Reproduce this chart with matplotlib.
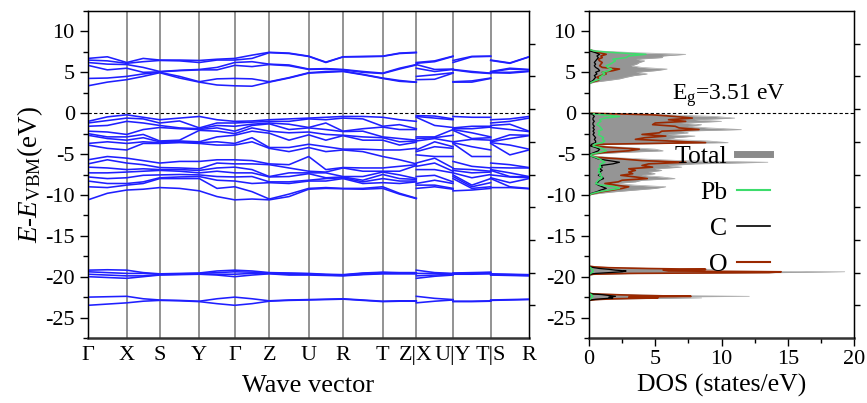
import numpy as np
import matplotlib
matplotlib.use("Agg")
import matplotlib.pyplot as plt
from matplotlib.lines import Line2D
from matplotlib.ticker import MultipleLocator

plt.rcParams['font.family'] = ['Liberation Serif', 'DejaVu Serif']
plt.rcParams['mathtext.fontset'] = 'custom'
plt.rcParams['mathtext.rm'] = 'Liberation Serif'
plt.rcParams['mathtext.it'] = 'Liberation Serif:italic'
plt.rcParams['axes.unicode_minus'] = False

# ---------------- band structure data ----------------
kpoint_labels = ['Γ', 'X', 'S', 'Y', 'Γ', 'Z', 'U', 'R', 'T', 'Z|X', 'U|Y', 'T|S', 'R']
seg_len = [38.7, 33.0, 39.6, 35.4, 34.6, 39.4, 34.3, 39.7, 33.6, 36.7, 37.7, 38.3]

# main path Γ-X-S-Y-Γ-Z-U-R-T-Z : node, mid, node, ... (19 rows)
cb_main = [
    [3.35, 4.25, 5.85, 6.2, 6.5, 6.7],
    [3.8, 4.3, 5.3, 6.0, 6.4, 6.9],
    [4.1, 4.5, 5.5, 5.95, 6.1, 6.2],
    [4.5, 4.8, 5.0, 5.6, 6.3, 6.7],
    [4.95, 5.0, 5.05, 5.1, 6.45, 6.5],
    [4.3, 4.5, 5.2, 5.25, 6.4, 6.5],
    [3.8, 3.85, 5.3, 5.35, 6.2, 6.45],
    [3.45, 4.2, 5.3, 5.6, 6.5, 6.6],
    [3.35, 4.25, 5.85, 6.2, 6.5, 6.7],
    [3.3, 4.2, 5.7, 6.3, 6.7, 7.1],
    [3.8, 3.85, 5.95, 6.0, 7.4, 7.45],
    [4.3, 4.35, 5.8, 5.9, 7.3, 7.35],
    [4.9, 4.95, 5.35, 5.4, 6.94, 6.98],
    [5.0, 5.1, 5.4, 5.45, 6.2, 6.25],
    [5.1, 5.15, 5.3, 5.35, 6.88, 6.9],
    [4.7, 4.75, 5.0, 5.1, 6.9, 6.95],
    [4.25, 4.3, 4.85, 4.9, 6.95, 6.98],
    [3.9, 4.0, 5.4, 5.5, 7.3, 7.35],
    [3.78, 3.8, 5.9, 5.95, 7.4, 7.45],
]
cb_XU = [[4.1, 4.5, 5.5, 5.95, 6.1, 6.2],
         [4.15, 4.7, 5.1, 5.35, 6.3, 6.4],
         [4.9, 4.95, 5.35, 5.4, 6.94, 6.98]]
cb_YT = [[3.8, 3.85, 5.3, 5.35, 6.2, 6.45],
         [3.8, 3.95, 5.0, 5.1, 6.9, 6.95],
         [4.25, 4.3, 4.85, 4.9, 6.95, 6.98]]
cb_SR = [[4.95, 5.0, 5.05, 5.1, 6.45, 6.5],
         [4.9, 5.0, 5.4, 5.5, 6.1, 6.15],
         [5.1, 5.15, 5.3, 5.35, 6.88, 6.9]]

vb_main = [
    [-1.0, -1.2, -1.6, -2.2, -2.5, -2.7, -3.7, -3.9, -5.7, -6.2, -6.6, -7.3, -7.8, -8.3, -9.0, -10.6],
    [-0.45, -0.9, -1.5, -2.3, -2.9, -3.1, -3.5, -4.3, -5.3, -5.7, -6.7, -7.3, -8.0, -8.6, -9.1, -9.8],
    [-0.2, -0.6, -1.0, -2.6, -2.9, -3.3, -3.7, -4.5, -5.5, -6.1, -6.9, -7.2, -7.9, -8.6, -8.8, -9.4],
    [-0.5, -0.7, -1.2, -2.0, -2.6, -3.0, -3.5, -3.7, -5.8, -6.3, -6.8, -7.1, -7.6, -8.4, -8.6, -9.3],
    [-0.8, -1.2, -1.5, -1.75, -3.4, -3.5, -3.6, -3.7, -6.1, -6.65, -6.9, -7.0, -7.55, -7.9, -8.0, -9.1],
    [-0.6, -0.95, -1.8, -1.9, -3.3, -3.4, -3.5, -3.6, -5.9, -6.7, -6.9, -7.1, -7.5, -7.8, -8.0, -9.2],
    [-0.4, -1.8, -1.9, -2.0, -2.1, -3.5, -3.6, -3.7, -5.9, -6.8, -7.0, -7.3, -7.55, -7.75, -8.0, -9.5],
    [-0.8, -1.2, -1.5, -1.8, -2.2, -2.9, -3.5, -3.9, -5.7, -6.1, -6.7, -7.1, -7.75, -8.2, -9.2, -10.2],
    [-1.0, -1.2, -1.6, -2.2, -2.5, -2.7, -3.7, -3.9, -5.7, -6.2, -6.6, -7.3, -7.8, -8.3, -9.0, -10.6],
    [-0.95, -1.1, -1.35, -1.5, -1.8, -2.2, -3.0, -3.5, -5.8, -6.2, -6.9, -7.3, -7.75, -8.6, -9.6, -10.5],
    [-0.8, -1.0, -1.2, -1.3, -2.2, -2.45, -4.2, -4.3, -6.2, -6.3, -7.75, -7.8, -8.4, -8.5, -10.5, -10.6],
    [-0.7, -1.0, -1.35, -2.0, -2.4, -3.3, -4.2, -4.7, -6.3, -6.7, -7.3, -7.75, -8.4, -8.6, -9.9, -10.2],
    [-0.6, -0.7, -1.75, -1.8, -2.3, -2.65, -3.8, -4.2, -5.3, -7.1, -7.3, -7.4, -8.2, -8.3, -9.2, -9.3],
    [-0.5, -0.8, -1.2, -2.0, -2.6, -3.3, -4.1, -4.7, -6.9, -7.2, -7.3, -7.9, -8.0, -8.3, -9.1, -9.2],
    [-0.4, -0.6, -2.2, -2.25, -2.7, -2.75, -4.4, -4.5, -6.65, -6.7, -7.75, -7.8, -7.9, -8.0, -9.2, -9.25],
    [-0.4, -0.7, -1.9, -2.2, -2.9, -3.3, -4.4, -4.7, -6.7, -7.1, -7.75, -8.2, -8.4, -8.6, -9.2, -9.3],
    [-0.5, -1.6, -1.7, -2.9, -3.0, -3.3, -4.5, -5.3, -6.7, -7.1, -7.2, -7.5, -8.0, -8.5, -9.0, -9.2],
    [-0.8, -1.4, -2.0, -3.1, -3.5, -3.9, -4.5, -5.7, -6.5, -7.1, -7.55, -8.0, -8.3, -8.6, -9.8, -9.9],
    [-1.0, -1.9, -2.0, -3.3, -3.4, -3.55, -4.3, -6.2, -6.3, -6.4, -8.0, -8.1, -8.3, -8.4, -10.4, -10.45],
]
vb_XU = [
    [-0.3, -0.4, -0.5, -2.9, -3.1, -3.4, -4.5, -4.7, -5.1, -6.1, -6.5, -6.9, -7.75, -8.6, -8.8, -9.2],
    [-0.35, -0.6, -1.5, -2.9, -3.0, -3.1, -3.5, -4.1, -5.3, -5.5, -6.1, -6.9, -7.6, -8.2, -8.8, -9.0],
    [-0.7, -0.8, -1.75, -2.0, -2.7, -3.5, -4.1, -4.3, -5.3, -6.7, -7.1, -7.3, -8.4, -8.6, -9.2, -9.3],
]
vb_YT = [
    [-0.4, -1.8, -1.9, -2.0, -2.1, -3.5, -3.6, -3.7, -5.9, -6.8, -7.0, -7.3, -7.55, -7.75, -8.0, -9.5],
    [-0.5, -1.6, -1.9, -2.4, -3.1, -3.2, -4.1, -5.3, -6.5, -6.9, -7.3, -7.9, -8.8, -9.0, -9.2, -9.4],
    [-0.5, -1.6, -1.7, -2.9, -3.0, -3.3, -4.5, -5.3, -6.7, -7.1, -7.2, -7.5, -8.0, -8.5, -9.0, -9.2],
]
vb_SR = [
    [-0.8, -1.2, -1.5, -1.75, -3.4, -3.5, -3.6, -3.7, -6.1, -6.65, -6.9, -7.0, -7.55, -7.9, -8.0, -9.1],
    [-0.7, -1.0, -1.35, -2.0, -2.65, -3.1, -3.9, -5.1, -6.3, -6.7, -7.3, -7.75, -7.8, -8.5, -9.0, -9.1],
    [-0.4, -0.6, -2.2, -2.25, -2.7, -2.75, -4.4, -4.5, -6.65, -6.7, -7.75, -7.8, -7.9, -8.0, -9.2, -9.25],
]

sc_main = [
    [-19.2, -19.4, -19.7, -20.0, -22.5, -23.5],
    [-19.15, -19.5, -19.8, -20.1, -22.45, -23.35],
    [-19.2, -19.6, -19.9, -20.2, -22.4, -23.2],
    [-19.5, -19.6, -19.9, -20.0, -22.7, -23.0],
    [-19.65, -19.7, -19.75, -19.8, -22.85, -22.9],
    [-19.6, -19.65, -19.7, -19.75, -22.9, -22.95],
    [-19.55, -19.6, -19.65, -19.7, -23.0, -23.05],
    [-19.3, -19.5, -19.7, -19.8, -22.7, -23.3],
    [-19.2, -19.4, -19.7, -20.0, -22.5, -23.5],
    [-19.3, -19.45, -19.6, -19.8, -22.7, -23.3],
    [-19.5, -19.55, -19.6, -19.65, -22.95, -23.0],
    [-19.55, -19.6, -19.7, -19.8, -22.85, -22.9],
    [-19.6, -19.65, -19.7, -19.8, -22.8, -22.85],
    [-19.7, -19.75, -19.8, -19.85, -22.75, -22.8],
    [-19.75, -19.8, -19.85, -19.9, -22.7, -22.75],
    [-19.55, -19.6, -19.7, -19.75, -22.85, -22.9],
    [-19.45, -19.5, -19.6, -19.65, -23.0, -23.05],
    [-19.5, -19.55, -19.6, -19.65, -22.95, -23.0],
    [-19.5, -19.55, -19.6, -19.65, -22.95, -23.0],
]
sc_XU = [[-19.2, -19.6, -19.9, -20.2, -22.4, -23.2],
         [-19.5, -19.6, -19.8, -19.95, -22.65, -23.0],
         [-19.6, -19.65, -19.7, -19.8, -22.8, -22.85]]
sc_YT = [[-19.55, -19.6, -19.65, -19.7, -23.0, -23.05],
         [-19.5, -19.55, -19.6, -19.7, -23.0, -23.05],
         [-19.45, -19.5, -19.6, -19.65, -22.95, -23.0]]
sc_SR = [[-19.65, -19.7, -19.75, -19.8, -22.85, -22.9],
         [-19.7, -19.75, -19.8, -19.85, -22.8, -22.85],
         [-19.75, -19.8, -19.85, -19.9, -22.75, -22.8]]

# ---------------- DOS data (energy, Total, Pb, C, O) ----------------
dos_E = [12.5, 7.8, 7.6, 7.4, 7.2, 7.0, 6.8, 6.6, 6.4, 6.2, 6.0, 5.8, 5.6, 5.4, 5.2, 5.0,
         4.8, 4.6, 4.4, 4.2, 4.0, 3.8, 3.6,
         0.0, -0.2, -0.4, -0.6, -0.8, -1.0, -1.2, -1.4, -1.6, -1.8, -2.0, -2.2, -2.4, -2.6,
         -2.8, -3.0, -3.2, -3.4, -3.6, -3.8, -4.0, -4.2, -4.4, -4.6, -4.8, -5.0, -5.2, -5.4,
         -5.6, -5.8, -6.0, -6.2, -6.4, -6.6, -6.8, -7.0, -7.2, -7.4, -7.6, -7.8, -8.0, -8.2,
         -8.4, -8.6, -8.8, -9.0, -9.2, -9.4, -9.6, -9.8, -10.0,
         -18.7, -18.8, -18.9, -19.0, -19.1, -19.2, -19.3, -19.4, -19.5, -19.6, -19.7, -19.8,
         -22.0, -22.1, -22.2, -22.3, -22.4, -22.5, -22.6, -22.7, -22.8, -22.9, -27.5]
dos_total = [0, 0, 0.8, 3.5, 7.3, 5.6, 5.5, 3.6, 4.2, 3.8, 3.6, 3.2, 4.0, 5.9, 5.0, 3.6,
             4.4, 3.4, 2.8, 2.3, 1.4, 0.4, 0,
             0, 6.0, 9.5, 11.0, 8.0, 10.0, 7.0, 8.5, 7.5, 9.0, 11.5, 7.0, 7.5, 6.0,
             8.0, 6.5, 6.0, 9.0, 10.5, 1.5, 0.5, 3.0, 5.0, 5.6, 2.5, 0.4, 0.2, 1.5,
             4.0, 7.0, 13.5, 8.0, 6.0, 7.0, 5.0, 5.5, 4.5, 5.0, 4.0, 5.5, 6.5, 4.0,
             3.5, 2.0, 3.5, 5.8, 5.0, 3.5, 2.0, 0.8, 0,
             0, 0.5, 2.0, 5.0, 9.5, 6.0, 8.0, 19.3, 14.5, 4.0, 0.5, 0,
             0, 0.5, 3.0, 6.0, 12.1, 4.0, 8.5, 3.0, 0.8, 0, 0]
dos_Pb = [0, 0, 0.4, 2.0, 4.3, 3.0, 2.8, 1.8, 2.0, 1.8, 1.6, 1.3, 1.4, 1.7, 1.5, 1.0,
          1.2, 1.0, 0.8, 0.9, 0.5, 0.2, 0,
          0, 1.0, 2.3, 1.2, 0.8, 0.9, 0.7, 0.6, 0.8, 0.9, 1.0, 0.7, 0.8, 0.7,
          0.9, 1.1, 1.0, 1.2, 1.0, 0.4, 0.3, 0.8, 1.1, 1.3, 0.8, 0.2, 0.1, 0.5,
          0.8, 1.0, 1.2, 0.9, 0.8, 0.9, 0.7, 0.8, 0.7, 0.9, 0.8, 1.0, 0.9, 0.7,
          0.6, 0.5, 0.9, 2.0, 2.3, 1.5, 0.8, 0.3, 0,
          0, 0.05, 0.1, 0.2, 0.2, 0.3, 0.3, 0.3, 0.2, 0.1, 0.05, 0,
          0, 0.05, 0.2, 0.2, 0.3, 0.2, 0.2, 0.1, 0.05, 0, 0]
dos_C = [0, 0, 0.1, 0.5, 0.8, 0.6, 0.7, 0.6, 0.5, 0.4, 0.5, 0.4, 0.5, 0.7, 0.8, 0.5,
         0.6, 0.4, 0.5, 0.4, 0.3, 0.1, 0,
         0, 0.3, 0.4, 0.3, 0.3, 0.4, 0.3, 0.3, 0.4, 0.3, 0.4, 0.3, 0.4, 0.3,
         0.4, 0.5, 0.4, 0.5, 0.5, 0.2, 0.1, 0.5, 0.8, 0.7, 0.4, 0.1, 0.05, 0.4,
         0.7, 1.5, 2.3, 1.8, 0.9, 1.0, 0.8, 1.0, 0.8, 0.9, 0.7, 1.0, 1.1, 0.8,
         0.7, 0.5, 0.7, 1.0, 1.3, 0.9, 0.6, 0.2, 0,
         0, 0.1, 0.4, 0.8, 1.5, 2.0, 2.8, 2.5, 1.5, 0.5, 0.1, 0,
         0, 0.2, 1.0, 1.5, 2.0, 1.5, 1.8, 1.0, 0.3, 0, 0]
dos_O = [0, 0, 0.3, 0.8, 1.3, 0.9, 1.0, 0.7, 0.8, 1.0, 0.9, 0.8, 1.0, 2.3, 1.8, 1.0,
         1.3, 0.9, 0.6, 0.8, 0.7, 0.2, 0,
         0, 4.8, 6.5, 7.8, 6.0, 7.3, 5.0, 4.8, 6.5, 6.8, 8.3, 5.5, 5.3, 4.0,
         5.8, 4.2, 3.5, 6.0, 8.8, 0.8, 0.2, 1.8, 3.8, 3.0, 1.2, 0.2, 0.1, 0.6,
         2.5, 4.0, 7.3, 4.5, 4.0, 4.8, 3.0, 3.5, 3.0, 3.3, 2.4, 3.5, 4.4, 2.5,
         2.2, 1.2, 2.0, 3.0, 2.5, 1.8, 1.0, 0.4, 0,
         0, 0.4, 1.5, 4.5, 8.8, 5.6, 6.0, 14.5, 13.6, 3.0, 0.3, 0,
         0, 0.3, 2.0, 4.0, 7.7, 3.0, 5.2, 2.0, 0.5, 0, 0]

gap_text = r'E$_{\mathrm{g}}$=3.51 eV'

# ---------------- figure ----------------
W, H = 867, 403
fig = plt.figure(figsize=(W / 100, H / 100), dpi=100)
ax1 = fig.add_axes([88 / W, 65 / H, 441 / W, 327 / H])
ax2 = fig.add_axes([589 / W, 65 / H, 265 / W, 327 / H])

band_color = '#1f1fff'
ticks_k = np.concatenate([[0], np.cumsum(seg_len)])

def seg_k(a, b):
    return [ticks_k[a], (ticks_k[a] + ticks_k[b]) / 2, ticks_k[b]]

k_main = []
for i in range(9):
    pts = seg_k(i, i + 1)
    k_main.extend(pts if i == 0 else pts[1:])
k_XU, k_YT, k_SR = seg_k(9, 10), seg_k(10, 11), seg_k(11, 12)

for kk, arrs in [(k_main, [cb_main, vb_main, sc_main]),
                 (k_XU, [cb_XU, vb_XU, sc_XU]),
                 (k_YT, [cb_YT, vb_YT, sc_YT]),
                 (k_SR, [cb_SR, vb_SR, sc_SR])]:
    for arr in arrs:
        ax1.plot(kk, np.array(arr), color=band_color, lw=1.15,
                 solid_joinstyle='round', zorder=3)

for x in ticks_k[1:-1]:
    ax1.axvline(x, color='#8a8a8a', lw=1.3, zorder=1)

ax1.axhline(0, color='k', ls=(0, (3, 2)), lw=0.8, zorder=4)
ax1.set_xlim(ticks_k[0], ticks_k[-1])
ax1.set_ylim(-27.5, 12.5)
ax1.set_xticks(ticks_k)
ax1.set_xticklabels(kpoint_labels)
ax1.tick_params(axis='x', length=0, pad=6, labelsize=16)
ax1.set_xlabel('Wave vector', fontsize=19, labelpad=7)
ax1.set_ylabel(r'$E$-$E_{\mathrm{VBM}}$(eV)', fontsize=19.5, labelpad=0)

# ---------------- DOS panel ----------------
E = np.array(dos_E)
ax2.fill_betweenx(E, 0, dos_total, color='#959595', lw=0, zorder=2)
ax2.plot(dos_total, E, color='#a8a8a8', lw=0.5, zorder=2)
ax2.plot(dos_O, E, color='#9a2800', lw=1.2, zorder=3)
ax2.plot(dos_C, E, color='black', lw=0.9, zorder=4)
ax2.plot(dos_Pb, E, color='#3ddc6c', lw=1.1, zorder=5)
ax2.axhline(0, color='k', ls=(0, (3, 2)), lw=0.8, zorder=6)
ax2.set_xlim(0, 20)
ax2.set_ylim(-27.5, 12.5)
ax2.xaxis.set_major_locator(MultipleLocator(5))
ax2.xaxis.set_minor_locator(MultipleLocator(2.5))
ax2.set_xlabel('DOS (states/eV)', fontsize=18.5, labelpad=3)
ax2.text(6.3, 1.63, gap_text, fontsize=17, ha='left', va='baseline')

handles = [Line2D([], [], color='#8a8a8a', lw=5),
           Line2D([], [], color='#3ddc6c', lw=1.5),
           Line2D([], [], color='black', lw=1.2),
           Line2D([], [], color='#9a2800', lw=1.5)]
ax2.legend(handles, ['Total', 'Pb', 'C', 'O'], markerfirst=False, frameon=False,
           fontsize=18.5, handlelength=1.3, handletextpad=0.35, labelspacing=0.5,
           loc='upper right', bbox_to_anchor=(0.683, 0.59), borderpad=0,
           borderaxespad=0)

for ax in (ax1, ax2):
    ax.yaxis.set_major_locator(MultipleLocator(5))
    ax.yaxis.set_minor_locator(MultipleLocator(2.5))
    ax.tick_params(axis='y', which='major', direction='out', length=6, width=1, labelsize=16)
    ax.tick_params(axis='y', which='minor', direction='out', length=3.5, width=1)
    for s in ax.spines.values():
        s.set_linewidth(1.0)
    ax.spines['bottom'].set_linewidth(1.8)
    ax.spines['bottom'].set_color('#333333')
    tw = ax.twinx()
    tw.set_ylim(0, 10)
    tw.set_yticks(range(1, 10))
    tw.set_yticklabels([])
    tw.tick_params(axis='y', direction='out', length=4, width=1)
    tw.spines['bottom'].set_visible(False)

ax2.tick_params(axis='x', which='major', direction='out', length=6, width=1, labelsize=16, pad=3)
ax2.tick_params(axis='x', which='minor', direction='out', length=3.5, width=1)

fig.savefig('out.png', dpi=100)
